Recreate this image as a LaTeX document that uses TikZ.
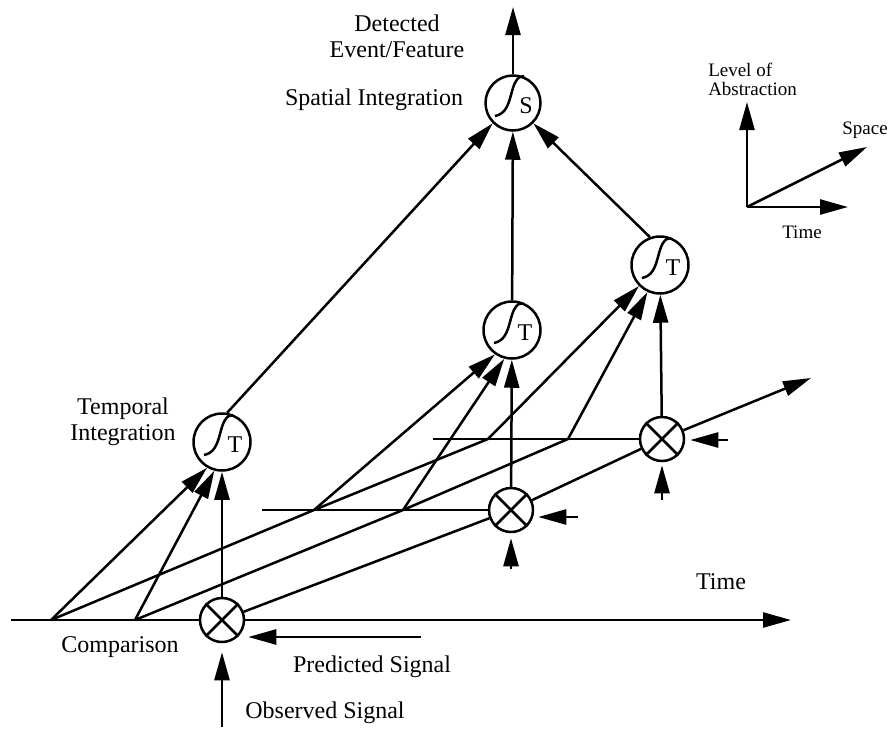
\documentclass[tikz,border=0pt]{standalone}
\usepackage{fontspec}
\setmainfont{Liberation Serif}
\usetikzlibrary{arrows.meta,calc}
\newcommand{\mycmp}[3]{%
  \node[cmp] (#1) at (#2,#3) {};
  \draw (#1.45) -- (#1.225) (#1.135) -- (#1.315);
}
\newcommand{\myinteg}[5]{% name, x, y, letter, style
  \node[#5] (#1) at (#2,#3) {};
  \draw ([shift={(-18,13)}]#1.center) .. controls ([shift={(-8,11)}]#1.center) and ([shift={(-5,3)}]#1.center) .. ([shift={(-2,-8)}]#1.center) .. controls ([shift={(1,-20)}]#1.center) and ([shift={(4,-27)}]#1.center) .. ([shift={(11,-27)}]#1.center);
  \node[letter] (#1t) at ([shift={(13,3)}]#1.center) {#4};
}
\begin{document}
\begin{tikzpicture}[x=1pt,y=-1pt,line width=2.5pt,
  arr/.style={-{Triangle[length=28pt,width=15pt]}},
  cmp/.style={circle,draw,minimum size=44pt,inner sep=0pt},
  intc/.style={circle,draw,minimum size=57pt,inner sep=0pt},
  sumc/.style={circle,draw,minimum size=55pt,inner sep=0pt},
  letter/.style={font=\fontsize{24}{24}\selectfont,inner sep=0pt},
  lbl/.style={font=\fontsize{24}{26}\selectfont,inner sep=0pt},
  leg/.style={font=\fontsize{19}{19}\selectfont,inner sep=0pt},
]
\useasboundingbox (0,0) rectangle (891,728);

% comparators
\mycmp{C1}{222}{620}
\mycmp{C2}{511}{510}
\mycmp{C3}{662}{439}

% integrators
\myinteg{T1}{222}{442}{T}{intc}
\myinteg{T2}{512}{330}{T}{intc}
\myinteg{T3}{660}{265}{T}{intc}
\myinteg{S}{513}{103}{S}{sumc}

% coordinates
\coordinate (P1) at (51,620);
\coordinate (P2) at (135,620);
\coordinate (Q1) at (314,510);
\coordinate (Q2) at (403,510);
\coordinate (R1) at (488,439);
\coordinate (R2) at (568,439);
\coordinate (A0) at (11,620);
\coordinate (AE) at (791,620);
\coordinate (B0) at (262,510);
\coordinate (D0) at (433,439);
\coordinate (SE) at (811,378);
\coordinate (TOP) at (513,7);

% time axes
\draw (A0) -- (C1.west);
\draw[arr] (C1.east) -- (AE);
\draw (B0) -- (C2.west);
\draw (D0) -- (C3.west);

% space direction
\draw (C1) -- (C2);
\draw (C2) -- (C3);
\draw[arr] (C3) -- (SE);
\draw (P1) -- (Q1) -- (R1);
\draw (P2) -- (Q2) -- (R2);

% into temporal integrators
\draw[arr] (P1) -- (T1.240);
\draw[arr] (P2) -- (T1.255);
\draw[arr] (C1) -- (T1);
\draw[arr] (Q1) -- (T2.235);
\draw[arr] (Q2) -- (T2.255);
\draw[arr] (C2) -- (T2);
\draw[arr] (R1) -- (T3.225);
\draw[arr] (R2) -- (T3.245);
\draw[arr] (C3) -- (T3);

% into spatial integrator
\draw[arr] (T1.80) -- (S.225);
\draw[arr] (T2) -- (S);
\draw[arr] (T3.110) -- (S.315);
\draw[arr] (S) -- (TOP);

% predicted / observed inputs
\coordinate (pr1) at (421,637);
\coordinate (ob1) at (222,727);
\coordinate (pr2) at (578,517);
\coordinate (ob2) at (511,569);
\coordinate (pr3) at (728,440);
\coordinate (ob3) at (662,500);
\draw[arr,shorten >=3pt] (pr1) -- (pr1 -| C1.east);
\draw[arr,shorten >=9pt] (ob1) -- (C1.south);
\draw[arr,shorten >=4pt] (pr2) -- (pr2 -| C2.east);
\draw[arr,shorten >=5pt] (ob2) -- (C2.south);
\draw[arr,shorten >=5pt] (pr3) -- (pr3 -| C3.east);
\draw[arr,shorten >=3pt] (ob3) -- (C3.south);

% legend
\coordinate (L0) at (747,207);
\coordinate (LU) at (747,102);
\coordinate (LR) at (848,207);
\coordinate (LD) at (867,147);
\draw[arr] (L0) -- (LU);
\draw[arr] (L0) -- (LR);
\draw[arr] (L0) -- (LD);
\node[leg,align=left,anchor=west] (lvl) at (707,79) {Level of\\Abstraction};
\node[leg] (spc) at (865,130) {Space};
\node[leg] (ltime) at (802,232) {Time};

% labels
\node[lbl,align=center] (det) at (397,36) {Detected\\Event/Feature};
\node[lbl] (spi) at (374,100) {Spatial Integration};
\node[lbl,align=center] (tpi) at (123,422) {Temporal\\Integration};
\node[lbl] (timel) at (721,582) {Time};
\node[lbl] (cmpl) at (120,647) {Comparison};
\node[lbl] (pred) at (372,667) {Predicted Signal};
\node[lbl] (obs) at (325,713) {Observed Signal};
\end{tikzpicture}
\end{document}
